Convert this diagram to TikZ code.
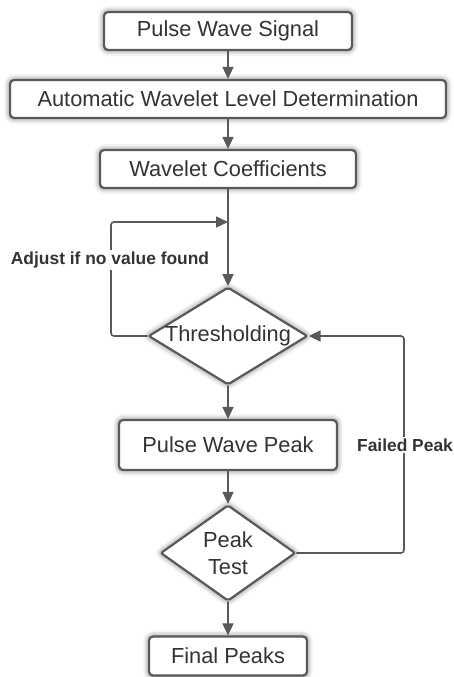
\documentclass[tikz,border=0pt]{standalone}
\usepackage{fontspec}
\setmainfont{Liberation Sans}
\usetikzlibrary{shapes.geometric,arrows.meta,shadows.blur}
\definecolor{linegray}{HTML}{595959}
\definecolor{textgray}{HTML}{333333}

\begin{document}
\begin{tikzpicture}[x=1pt, y=1pt, >={Triangle[length=12pt,width=11pt]}, line cap=round,
  box/.style={draw=linegray, line width=2.2pt, rounded corners=4pt, fill=white, text=textgray,
    font=\fontsize{21.8}{27}\selectfont, inner sep=0pt,
    blur shadow={shadow xshift=0pt, shadow yshift=0pt, shadow blur radius=6pt, shadow opacity=60}},
  decision/.style={box, diamond, rounded corners=2pt, align=center},
  conn/.style={draw=linegray, line width=1.6pt},
  tag/.style={fill=white, text=textgray, font=\fontsize{17.4}{20}\selectfont\bfseries, inner sep=2pt}]
\useasboundingbox (0,0) rectangle (453,-677);
% steps
\node [box, minimum width=248, minimum height=38] (signal) at (228,-31) {Pulse Wave Signal};
\node [box, minimum width=436, minimum height=38] (level) at (228,-99) {Automatic Wavelet Level Determination};
\node [box, minimum width=256, minimum height=38] (coeff) at (228,-169) {Wavelet Coefficients};
\node [decision, aspect=1.63, minimum width=153, minimum height=94] (thresh) at (228,-336) {Thresholding};
\node [box, minimum width=218, minimum height=50] (peak) at (228,-445) {Pulse Wave Peak};
\node [decision, aspect=1.41, minimum width=135, minimum height=96] (test) at (228,-553) {Peak\\Test};
\node [box, minimum width=158, minimum height=39] (final) at (228,-656) {Final Peaks};
\coordinate (join) at (228,-222);
% main flow
\draw [conn, ->] (signal) -- (level);
\draw [conn, ->] (level) -- (coeff);
\draw [conn, ->] (coeff) -- (thresh);
\draw [conn, ->] (thresh) -- (peak);
\draw [conn, ->] (peak) -- (test);
\draw [conn, ->] (test) -- (final);
% loops back
\draw [conn, ->, rounded corners=3pt] (thresh.west) -- (111,-336) |- (join);
\draw [conn, ->, rounded corners=3pt] (test.east) -- (404,-553) |- (thresh.east);
\node [tag] (adjust) at (110,-260) {Adjust if no value found};
\node [tag] (failed) at (405,-445) {Failed Peak};
\end{tikzpicture}
\end{document}
